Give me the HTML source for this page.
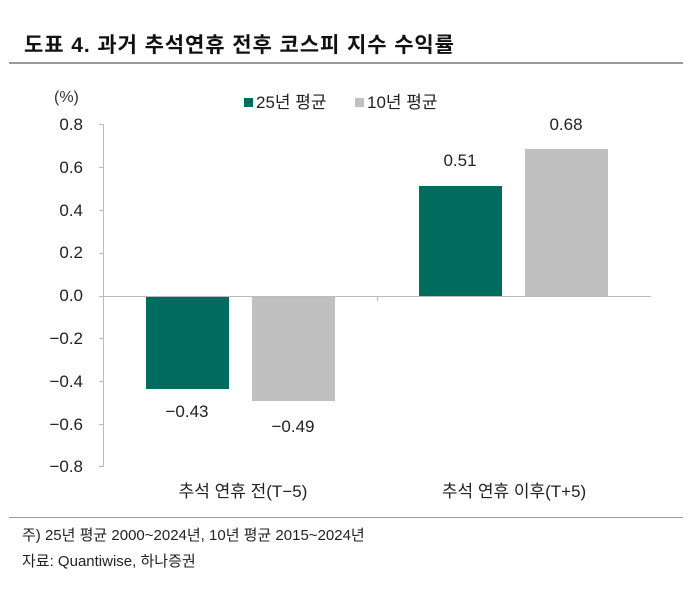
<!DOCTYPE html>
<html><head><meta charset="utf-8"><style>
body{margin:0;background:#fff;width:700px;height:591px;overflow:hidden;font-family:"Liberation Sans","Noto Sans CJK KR",sans-serif;}
</style></head><body>
<svg width="700" height="591" xmlns="http://www.w3.org/2000/svg" font-family="Liberation Sans, Noto Sans CJK KR, sans-serif">
<text x="24" y="52" font-size="21" font-weight="bold" fill="#111" textLength="430" lengthAdjust="spacing">도표 4. 과거 추석연휴 전후 코스피 지수 수익률</text>
<rect x="9" y="62" width="674" height="2" fill="#999"/>
<text x="54" y="102" font-size="16" fill="#333">(%)</text>
<rect x="244" y="98" width="9" height="9" fill="#006b5f"/>
<text x="256" y="108" font-size="17" fill="#222">25년 평균</text>
<rect x="355" y="98" width="9" height="9" fill="#c0c0c0"/>
<text x="367" y="108" font-size="17" fill="#222">10년 평균</text>
<g font-size="17" fill="#222" text-anchor="end">
<text x="83" y="130">0.8</text><text x="83" y="173">0.6</text><text x="83" y="216">0.4</text><text x="83" y="258">0.2</text><text x="83" y="301">0.0</text><text x="83" y="344">−0.2</text><text x="83" y="387">−0.4</text><text x="83" y="430">−0.6</text><text x="83" y="472">−0.8</text>
</g>
<g stroke="#bbb" stroke-width="1">
<line x1="103.5" y1="124" x2="103.5" y2="467"/>
<line x1="99" y1="124.5" x2="103" y2="124.5"/><line x1="99" y1="167.5" x2="103" y2="167.5"/><line x1="99" y1="210.5" x2="103" y2="210.5"/><line x1="99" y1="253.5" x2="103" y2="253.5"/><line x1="99" y1="338.5" x2="103" y2="338.5"/><line x1="99" y1="381.5" x2="103" y2="381.5"/><line x1="99" y1="424.5" x2="103" y2="424.5"/><line x1="99" y1="466.5" x2="103" y2="466.5"/>
<line x1="99" y1="296.5" x2="651" y2="296.5"/>
<line x1="377.5" y1="296" x2="377.5" y2="301"/>
</g>
<rect x="146" y="297" width="83" height="92" fill="#006b5f"/>
<rect x="252" y="297" width="83" height="104" fill="#c0c0c0"/>
<rect x="419" y="186" width="83" height="110" fill="#006b5f"/>
<rect x="525" y="149" width="83" height="147" fill="#c0c0c0"/>
<g font-size="17" fill="#222" text-anchor="middle">
<text x="187" y="417">−0.43</text><text x="293" y="432">−0.49</text>
<text x="460" y="166">0.51</text><text x="566" y="130">0.68</text>
<text x="243" y="497">추석 연휴 전(T−5)</text>
<text x="514" y="497">추석 연휴 이후(T+5)</text>
</g>
<rect x="9" y="517" width="674" height="1" fill="#999"/>
<text x="22" y="540" font-size="15" fill="#222">주) 25년 평균 2000~2024년, 10년 평균 2015~2024년</text>
<text x="22" y="566" font-size="15" fill="#222">자료: Quantiwise, 하나증권</text>
</svg>
</body></html>
